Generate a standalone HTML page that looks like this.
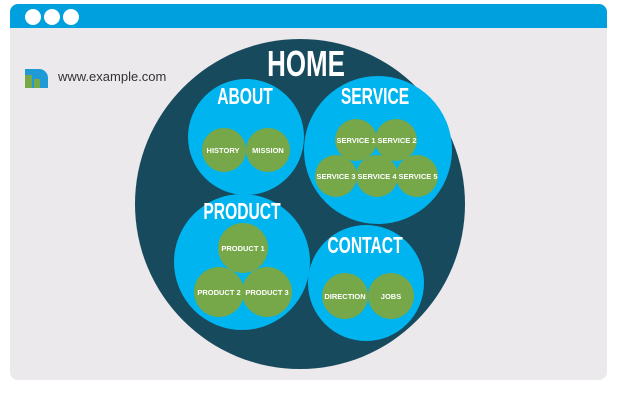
<!DOCTYPE html>
<html><head><style>
body{margin:0;width:620px;height:402px;background:#fff;overflow:hidden}
</style></head><body>
<svg width="620" height="402" xmlns="http://www.w3.org/2000/svg" font-family="Liberation Sans, sans-serif">
<rect x="10" y="4" width="597" height="376" rx="8" fill="#ebe9ec"/>
<path d="M10 28 V12 a8 8 0 0 1 8 -8 H599 a8 8 0 0 1 8 8 V28 Z" fill="#00a0df"/>
<circle cx="33" cy="17" r="8" fill="#fff"/><circle cx="52" cy="17" r="8" fill="#fff"/><circle cx="71" cy="17" r="8" fill="#fff"/>
<path d="M25 69 h14 a9 9 0 0 1 9 9 v10 h-23z" fill="#1e9ad6"/>
<rect x="25" y="75" width="7" height="13" fill="#76a84a"/><rect x="34" y="79" width="6" height="9" fill="#76a84a"/>
<text x="58" y="81" font-size="13" fill="#333">www.example.com</text>
<circle cx="300" cy="204" r="165" fill="#164a5c"/>
<g fill="#00b4ef">
<circle cx="246" cy="137" r="58"/><circle cx="378" cy="150" r="74"/>
<circle cx="242" cy="262" r="68"/><circle cx="366" cy="283" r="58"/>
</g>
<g fill="#76a84a">
<circle cx="224" cy="150" r="22"/><circle cx="268" cy="150" r="22"/>
<circle cx="356" cy="140" r="21"/><circle cx="396" cy="140" r="21"/>
<circle cx="336" cy="176" r="21"/><circle cx="377" cy="176" r="21"/><circle cx="417" cy="176" r="21"/>
<circle cx="243" cy="248" r="25"/><circle cx="219" cy="292" r="25"/><circle cx="267" cy="292" r="25"/>
<circle cx="345" cy="296" r="23"/><circle cx="391" cy="296" r="23"/>
</g>
<g fill="#fff" font-weight="bold" text-anchor="middle">
<text transform="translate(306,76) scale(0.72,1)" font-size="36">HOME</text>
<text transform="translate(245,104) scale(0.68,1)" font-size="23">ABOUT</text>
<text transform="translate(375,104) scale(0.68,1)" font-size="23">SERVICE</text>
<text transform="translate(242,219) scale(0.68,1)" font-size="23">PRODUCT</text>
<text transform="translate(365,253) scale(0.68,1)" font-size="23">CONTACT</text>
</g>
<g fill="#fff" font-weight="bold" text-anchor="middle" font-size="7.5">
<text x="223" y="153">HISTORY</text><text x="268" y="153">MISSION</text>
<text x="356" y="143">SERVICE 1</text><text x="397" y="143">SERVICE 2</text>
<text x="336" y="179">SERVICE 3</text><text x="377" y="179">SERVICE 4</text><text x="418" y="179">SERVICE 5</text>
<text x="243" y="251">PRODUCT 1</text><text x="219" y="295">PRODUCT 2</text><text x="267" y="295">PRODUCT 3</text>
<text x="345" y="299">DIRECTION</text><text x="391" y="299">JOBS</text>
</g>
</svg>
</body></html>
